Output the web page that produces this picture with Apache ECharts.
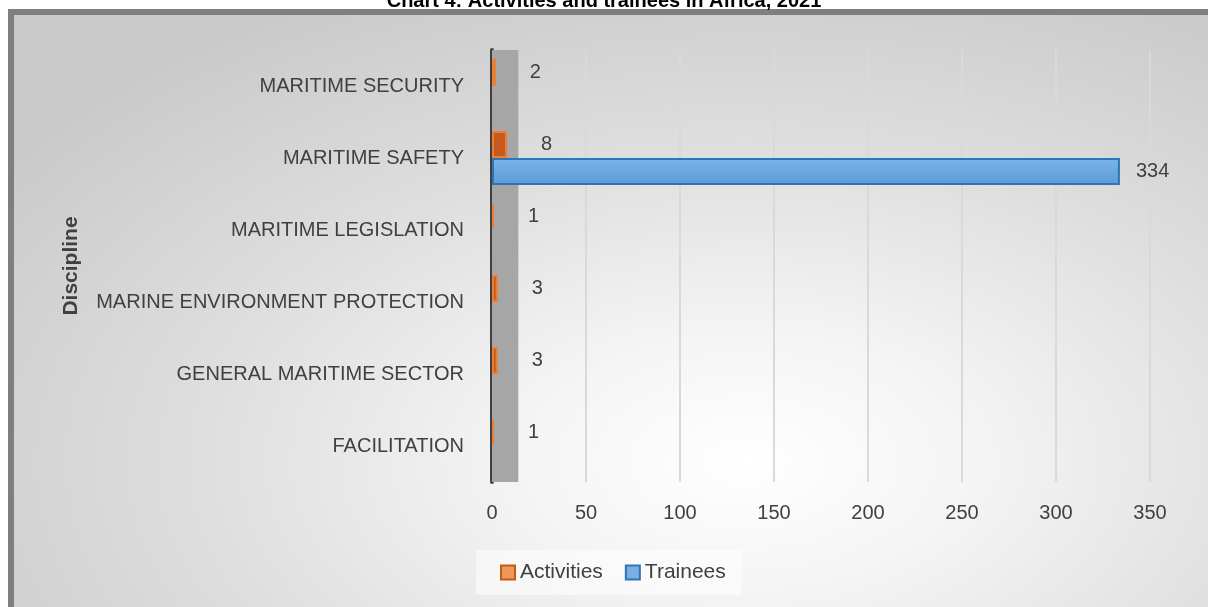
<!DOCTYPE html>
<html>
<head>
<meta charset="utf-8">
<script src="https://cdn.jsdelivr.net/npm/echarts@6/dist/echarts.min.js"></script>
<style>
  html, body { margin: 0; padding: 0; background: #fff; overflow: hidden; }
  #wrap { position: relative; width: 1208px; height: 607px; }
  #frame {
    position: absolute; left: 8px; top: 9px; width: 1220px; height: 620px;
    border-left: 6px solid #7f7f7f; border-top: 6px solid #7f7f7f;
    background: radial-gradient(ellipse 75% 85% at 60% 72%, #ffffff 0%, #f4f4f4 25%, #dedede 60%, #c9c9c9 100%);
  }
  #main { position: absolute; left: 0; top: 0; width: 1208px; height: 607px; }
</style>
</head>
<body>
<div id="wrap">
  <div id="frame"></div>
  <div id="main"></div>
</div>
<script>
// disciplines, bottom to top
var disciplines = ['FACILITATION', 'GENERAL MARITIME SECTOR', 'MARINE ENVIRONMENT PROTECTION',
  'MARITIME LEGISLATION', 'MARITIME SAFETY', 'MARITIME SECURITY'];
var activities = [1, 3, 3, 1, 8, 2];
var trainees = [null, null, null, null, 334, null];

var font = 'Liberation Sans';
var textColor = '#404040';

var chart = echarts.init(document.getElementById('main'));
chart.setOption({
  backgroundColor: 'transparent',
  textStyle: { fontFamily: font },
  title: {
    text: 'Chart 4: Activities and trainees in Africa, 2021',
    left: 'center',
    top: -14,
    textStyle: { fontSize: 20, fontWeight: 'bold', color: '#000', fontFamily: font }
  },
  legend: {
    left: 476,
    top: 550,
    padding: [12, 16, 12, 24],
    backgroundColor: 'rgba(255,255,255,0.5)',
    itemWidth: 14,
    itemHeight: 14,
    itemGap: 22,
    icon: 'rect',
    textStyle: { fontSize: 21, color: textColor, fontFamily: font },
    data: [
      { name: 'Activities', itemStyle: { color: '#f0965c', borderColor: '#c55a11', borderWidth: 2 } },
      { name: 'Trainees', itemStyle: { color: '#7aaee0', borderColor: '#2e75b6', borderWidth: 2 } }
    ]
  },
  grid: { left: 492, right: 58, top: 50, bottom: 125 },
  xAxis: {
    type: 'value',
    min: 0,
    max: 350,
    interval: 50,
    axisLine: { show: false },
    axisTick: { show: false },
    axisLabel: { fontSize: 20, color: textColor, margin: 21 },
    splitLine: { lineStyle: { color: '#d9d9d9', width: 2 } }
  },
  yAxis: {
    type: 'category',
    data: disciplines,
    name: 'Discipline',
    nameLocation: 'middle',
    nameRotate: 90,
    nameGap: 410,
    nameTextStyle: { fontSize: 21, fontWeight: 'bold', color: textColor },
    axisLine: { show: true, lineStyle: { color: '#404040', width: 4 } },
    axisTick: { show: false },
    axisLabel: { fontSize: 20, color: textColor, margin: 28 }
  },
  series: [
    {
      name: 'Activities',
      type: 'bar',
      barWidth: 27,
      barGap: '0%',
      data: activities,
      itemStyle: { color: '#c65a1e', borderColor: '#ed7d31', borderWidth: 2 },
      label: { show: true, position: 'right', distance: 34, fontSize: 20, color: textColor },
      markArea: {
        silent: true,
        itemStyle: { color: '#a6a6a6' },
        data: [[{ xAxis: 0 }, { xAxis: 14 }]]
      },
      z: 3
    },
    {
      name: 'Trainees',
      type: 'bar',
      barWidth: 27,
      data: trainees,
      itemStyle: {
        color: new echarts.graphic.LinearGradient(0, 0, 0, 1, [
          { offset: 0, color: '#7cb4ea' },
          { offset: 1, color: '#5b9bd5' }
        ]),
        borderColor: '#2e75b6',
        borderWidth: 2
      },
      label: { show: true, position: 'right', distance: 16, fontSize: 20, color: textColor },
      z: 3
    }
  ]
});
</script>
</body>
</html>
